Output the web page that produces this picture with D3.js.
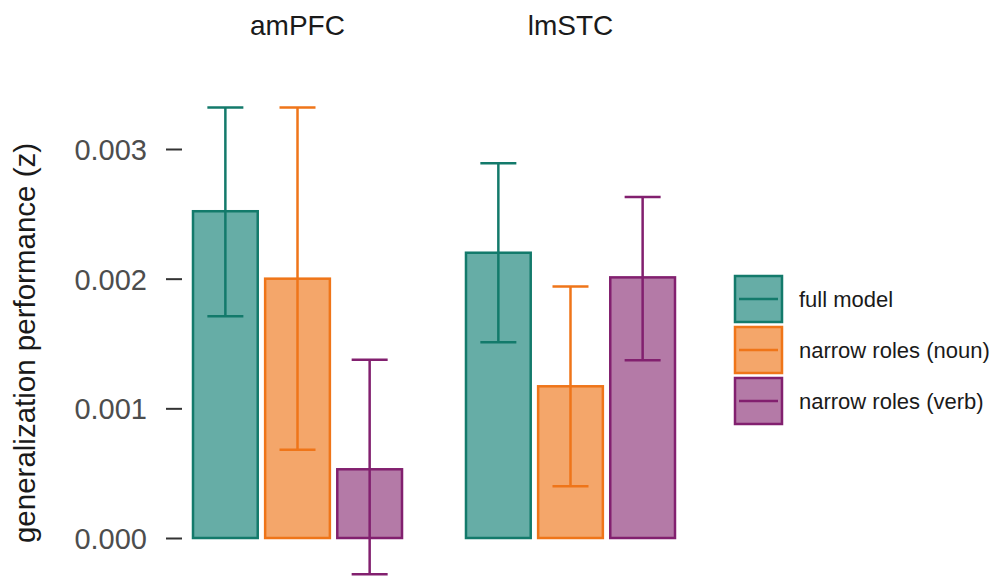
<!DOCTYPE html>
<html>
<head>
  <meta charset="utf-8">
  <title>Generalization performance by region</title>
  <style>
    body { margin: 0; background: #fff; }
    svg { font-family: "Liberation Sans", Arial, sans-serif; }
    .axis text { fill: #4d4d4d; font-size: 29px; }
    .axis line { stroke: #333; stroke-width: 2px; }
  </style>
</head>
<body>
  <script src="https://cdn.jsdelivr.net/npm/d3@7"></script>
  <script>
    // data
    var regions = ["amPFC", "lmSTC"];
    var models = ["full model", "narrow roles (noun)", "narrow roles (verb)"];
    // one row per region, one value per model
    var means = [
      [0.00252, 0.00200, 0.00053],
      [0.00220, 0.00117, 0.00201]
    ];
    var lower = [
      [0.00171, 0.00068, -0.00028],
      [0.00151, 0.00040, 0.00137]
    ];
    var upper = [
      [0.00332, 0.00332, 0.001375],
      [0.00289, 0.00194, 0.00263]
    ];
    var yTicks = [0, 0.001, 0.002, 0.003];

    var fills = ["#66ada6", "#f4a66a", "#b47aa7"];
    var strokes = ["#137a6b", "#ef7519", "#82206f"];

    var w = 997, h = 576;

    var svg = d3.select("body").append("svg")
      .attr("width", w)
      .attr("height", h);

    var y = d3.scaleLinear().domain([0, 0.003]).range([538, 149]);

    var x0 = d3.scaleBand().domain(regions)
      .range([192, 676]).paddingInner(0.227).paddingOuter(0);

    var x1 = d3.scaleBand().domain(models)
      .range([0, x0.bandwidth()]).paddingInner(0.075).paddingOuter(0);

    // rows of data for drawing
    var rows = [];
    regions.forEach(function(r, i) {
      models.forEach(function(m, j) {
        rows.push({ region: r, model: m, k: j, mean: means[i][j], lo: lower[i][j], hi: upper[i][j] });
      });
    });

    // y axis
    var yAxis = d3.axisLeft(y).tickValues(yTicks)
      .tickFormat(d3.format(".3f")).tickSize(16).tickPadding(19);
    var ga = svg.append("g")
      .attr("class", "axis")
      .attr("transform", "translate(182,0)")
      .call(yAxis);
    ga.select(".domain").remove();
    ga.selectAll("text").attr("dy", "0.36em");

    svg.append("text")
      .attr("transform", "translate(35," + 343 + ") rotate(-90)")
      .style("text-anchor", "middle")
      .style("font-size", "29.5px")
      .attr("fill", "#1a1a1a")
      .text("generalization performance (z)");

    // facet titles
    svg.selectAll(".facet")
      .data(regions)
      .enter().append("text")
      .attr("class", "facet")
      .attr("x", function(d) { return x0(d) + x0.bandwidth() / 2; })
      .attr("y", 35)
      .style("text-anchor", "middle")
      .style("font-size", "28px")
      .attr("fill", "#1a1a1a")
      .text(function(d) { return d; });

    // bars
    var bars = svg.selectAll(".bar")
      .data(rows)
      .enter().append("g")
      .attr("class", "bar")
      .attr("transform", function(d) { return "translate(" + (x0(d.region) + x1(d.model)) + ",0)"; });

    bars.append("rect")
      .attr("x", 1)
      .attr("width", x1.bandwidth() - 2)
      .attr("y", function(d) { return y(d.mean); })
      .attr("height", function(d) { return y(0) - y(d.mean); })
      .attr("fill", function(d) { return fills[d.k]; })
      .attr("stroke", function(d) { return strokes[d.k]; })
      .attr("stroke-width", 2.5);

    // error bars
    var cx = x1.bandwidth() / 2;
    var cap = 18;
    bars.append("line")
      .attr("x1", cx).attr("x2", cx)
      .attr("y1", function(d) { return y(d.hi); })
      .attr("y2", function(d) { return y(d.lo); })
      .attr("stroke", function(d) { return strokes[d.k]; })
      .attr("stroke-width", 2.5);
    bars.append("line")
      .attr("x1", cx - cap).attr("x2", cx + cap)
      .attr("y1", function(d) { return y(d.hi); })
      .attr("y2", function(d) { return y(d.hi); })
      .attr("stroke", function(d) { return strokes[d.k]; })
      .attr("stroke-width", 2.5);
    bars.append("line")
      .attr("x1", cx - cap).attr("x2", cx + cap)
      .attr("y1", function(d) { return y(d.lo); })
      .attr("y2", function(d) { return y(d.lo); })
      .attr("stroke", function(d) { return strokes[d.k]; })
      .attr("stroke-width", 2.5);

    // legend
    var legend = svg.selectAll(".legend")
      .data(models)
      .enter().append("g")
      .attr("class", "legend")
      .attr("transform", function(d, i) { return "translate(735," + (276 + i * 51) + ")"; });

    legend.append("rect")
      .attr("width", 47).attr("height", 46)
      .attr("fill", function(d, i) { return fills[i]; })
      .attr("stroke", function(d, i) { return strokes[i]; })
      .attr("stroke-width", 2.5);
    legend.append("line")
      .attr("x1", 4).attr("x2", 43)
      .attr("y1", 23).attr("y2", 23)
      .attr("stroke", function(d, i) { return strokes[i]; })
      .attr("stroke-width", 2.5);
    legend.append("text")
      .attr("x", 64)
      .attr("y", 23)
      .attr("dy", "0.36em")
      .style("font-size", "22px")
      .attr("fill", "#1a1a1a")
      .text(function(d) { return d; });
  </script>
</body>
</html>
